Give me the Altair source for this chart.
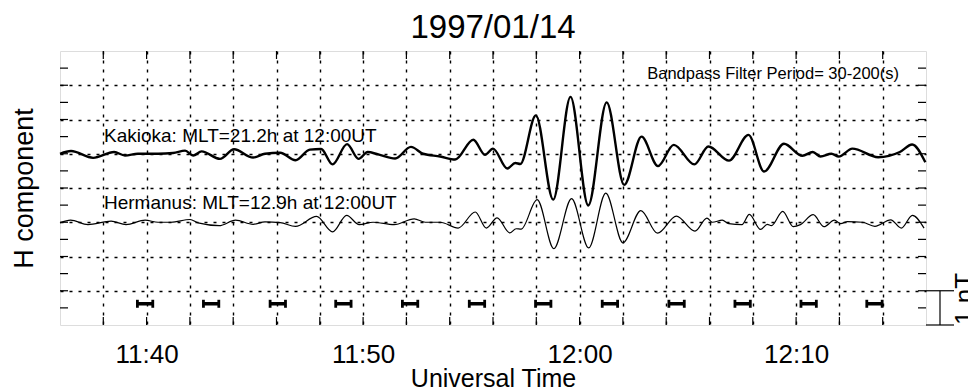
import altair as alt
import pandas as pd

# ---- data (time = minutes after 11:00 UT, value = nT deviation) ----
T_KAK = [36.00, 36.51, 37.53, 38.50, 39.00, 39.60, 40.53, 41.22, 41.78, 42.15, 42.54, 43.39,
         44.04, 44.92, 45.47, 46.17, 46.88, 47.54, 48.06, 48.59, 49.26, 49.79, 50.21, 50.70,
         51.48, 52.21, 52.77, 53.56, 54.25, 55.09, 55.63, 56.00, 56.66, 57.03, 57.26, 57.98,
         58.78, 59.58, 60.40, 61.25, 62.06, 62.86, 63.62, 64.35, 65.30, 65.95, 66.90, 67.80,
         68.52, 69.44, 70.29, 70.77, 71.13, 71.63, 71.97, 72.60, 73.79, 74.79, 75.36, 75.97]
V_KAK = [0.00, 0.08, -0.12, 0.05, -0.05, 0.00, 0.00, 0.02, 0.09, -0.05, 0.07, -0.15,
         0.13, -0.11, 0.00, 0.03, -0.19, 0.12, 0.14, -0.31, 0.28, -0.15, 0.05, -0.02,
         -0.14, 0.20, 0.00, -0.08, -0.17, 0.41, -0.03, 0.15, -0.43, -0.27, -0.30, 1.12,
         -1.34, 1.66, -1.51, 1.50, -0.91, 0.50, -0.36, 0.26, -0.31, 0.21, -0.20, 0.55,
         -0.52, 0.29, -0.06, 0.05, -0.08, 0.00, -0.08, 0.15, -0.10, 0.05, 0.27, -0.25]

T_HER = [36.00, 36.49, 37.29, 38.36, 39.05, 39.93, 40.53, 41.13, 42.01, 42.38, 43.35, 44.11,
         44.92, 45.47, 46.17, 46.88, 47.85, 48.59, 49.24, 49.82, 50.46, 51.43, 52.36, 52.87,
         53.56, 54.39, 55.18, 55.69, 56.19, 56.77, 57.07, 57.30, 58.04, 58.81, 59.63, 60.42,
         61.21, 62.00, 62.83, 63.60, 64.47, 65.33, 65.88, 66.13, 66.59, 66.89, 67.50, 67.84,
         68.36, 68.67, 68.86, 69.38, 69.87, 70.20, 70.79, 71.29, 71.77, 72.06, 72.37, 73.06,
         73.64, 74.37, 74.86, 75.37, 75.91]
V_HER = [-0.02, 0.06, -0.07, 0.03, -0.07, 0.06, 0.00, 0.00, 0.08, -0.02, -0.10, 0.06,
         -0.06, 0.01, -0.01, -0.12, 0.17, -0.28, 0.20, -0.07, 0.00, -0.07, 0.10, 0.00,
         0.00, -0.17, 0.30, -0.17, 0.13, -0.31, -0.19, -0.20, 0.66, -0.77, 0.69, -0.75,
         0.85, -0.60, 0.34, -0.32, 0.18, -0.26, 0.12, 0.00, 0.06, -0.04, -0.07, 0.23,
         -0.21, -0.06, -0.10, 0.32, -0.13, -0.07, 0.22, -0.13, 0.06, -0.04, 0.02, 0.00,
         -0.12, 0.07, -0.17, 0.20, -0.17]

KAK_BASE = 5.0
HER_BASE = 3.0

BAR_CENTERS = [39.93, 42.98, 46.06, 49.09, 52.17, 55.26, 58.32, 61.40, 64.48, 67.53, 70.58, 73.62]
BAR_HALF = 0.355
BAR_LEVEL = 0.62

X_GRID = [38, 40, 42, 44, 46, 48, 50, 52, 54, 56, 58, 60, 62, 64, 66, 68, 70, 72, 74]
Y_GRID = [1, 2, 3, 4, 5, 6, 7]
Y_TICKS = [0.5, 1, 1.5, 2, 2.5, 3, 3.5, 4, 4.5, 5, 5.5, 6, 6.5, 7, 7.5]

TITLE = "1997/01/14"
KAK_LABEL = "Kakioka: MLT=21.2h at 12:00UT"
HER_LABEL = "Hermanus: MLT=12.9h at 12:00UT"
FILTER_LABEL = "Bandpass Filter Period= 30-200(s)"
SCALE_LABEL = "1 nT"

FONT = "Liberation Sans"
W, H = 866, 274

kak = pd.DataFrame({"t": T_KAK, "v": [KAK_BASE + v for v in V_KAK]})
her = pd.DataFrame({"t": T_HER, "v": [HER_BASE + v for v in V_HER]})
bars = pd.DataFrame({"s": [c - BAR_HALF for c in BAR_CENTERS],
                     "e": [c + BAR_HALF for c in BAR_CENTERS]})
xt = pd.DataFrame({"t": X_GRID})
yt = pd.DataFrame({"v": Y_TICKS})
one = pd.DataFrame({"k": [0]})

xscale = alt.Scale(domain=[36, 76], nice=False, zero=False)
yscale = alt.Scale(domain=[0, 8], nice=False, zero=False)

label_expr = ("datum.value % 10 == 0 ? (11 + floor(datum.value / 60)) + ':' + "
              "(datum.value % 60 == 0 ? '00' : '' + (datum.value % 60)) : ''")

x_axis = alt.Axis(values=X_GRID, labelExpr=label_expr, title="Universal Time",
                  grid=True, gridDash=[3, 6], gridColor="#000000", gridOpacity=1, gridWidth=1.4,
                  ticks=False, domain=False,
                  labelFontSize=26, labelPadding=16, labelFont=FONT, labelColor="black",
                  titleFontSize=25, titleFont=FONT, titleFontWeight="normal", titleColor="black",
                  titleBaseline="alphabetic", titleY=61, labelOverlap=False)
y_axis = alt.Axis(values=Y_GRID, labels=False, ticks=False, domain=False, grid=True,
                  gridDash=[3, 6], gridColor="#000000", gridOpacity=1, gridWidth=1.4,
                  title="H component", titleFontSize=27, titleFont=FONT,
                  titleFontWeight="normal", titleColor="black", titleBaseline="alphabetic",
                  titleX=-28, titleY=137)

kak_line = alt.Chart(kak).mark_line(interpolate="monotone", color="black", strokeWidth=2.4).encode(
    x=alt.X("t:Q", scale=xscale, axis=x_axis),
    y=alt.Y("v:Q", scale=yscale, axis=y_axis),
)
her_line = alt.Chart(her).mark_line(interpolate="monotone", color="black", strokeWidth=1.2).encode(
    x=alt.X("t:Q", scale=xscale),
    y=alt.Y("v:Q", scale=yscale),
)

bar_rule = alt.Chart(bars).mark_rule(color="black", strokeWidth=3.5).encode(
    x=alt.X("s:Q", scale=xscale), x2="e:Q",
    y=alt.YDatum(BAR_LEVEL, scale=yscale),
)
cap_l = alt.Chart(bars).mark_tick(orient="vertical", size=8, thickness=2.8, color="black", opacity=1).encode(
    x=alt.X("s:Q", scale=xscale),
    y=alt.YDatum(BAR_LEVEL, scale=yscale),
)
cap_r = alt.Chart(bars).mark_tick(orient="vertical", size=8, thickness=2.8, color="black", opacity=1).encode(
    x=alt.X("e:Q", scale=xscale),
    y=alt.YDatum(BAR_LEVEL, scale=yscale),
)

# inward ticks on the frame
yl = alt.Chart(yt).mark_rule(color="black", strokeWidth=1.2).encode(
    y=alt.Y("v:Q", scale=yscale), x=alt.value(0), x2=alt.value(8))
yr = alt.Chart(yt).mark_rule(color="black", strokeWidth=1.2).encode(
    y=alt.Y("v:Q", scale=yscale), x=alt.value(W - 8), x2=alt.value(W))
xb = alt.Chart(xt).mark_rule(color="black", strokeWidth=1.2).encode(
    x=alt.X("t:Q", scale=xscale), y=alt.value(H - 8), y2=alt.value(H))
xtp = alt.Chart(xt).mark_rule(color="black", strokeWidth=1.2).encode(
    x=alt.X("t:Q", scale=xscale), y=alt.value(0), y2=alt.value(8))

# annotations (single-row data so each text is drawn once)
def text_layer(txt, x, y, size, align="left", angle=0):
    return alt.Chart(one).mark_text(align=align, baseline="alphabetic", fontSize=size, font=FONT,
                                    color="black", angle=angle).encode(
        x=alt.value(x), y=alt.value(y), text=alt.value(txt))

title_txt = text_layer(TITLE, W / 2, -13, 33, align="center")
kak_txt = text_layer(KAK_LABEL, 44, 90.7, 19)
her_txt = text_layer(HER_LABEL, 44, 158, 19)
bp_txt = text_layer(FILTER_LABEL, 839, 28.3, 16.5, align="right")
sb_txt = text_layer(SCALE_LABEL, W + 47, H, 26, angle=270)

# 1 nT scale bar outside the frame
sb_top = alt.Chart(one).mark_rule(color="black", strokeWidth=1.2).encode(
    x=alt.value(W), x2=alt.value(W + 28), y=alt.value(H - 34.25))
sb_bot = alt.Chart(one).mark_rule(color="black", strokeWidth=1.2).encode(
    x=alt.value(W), x2=alt.value(W + 28), y=alt.value(H))
sb_v = alt.Chart(one).mark_rule(color="black", strokeWidth=1.2).encode(
    x=alt.value(W + 14), y=alt.value(H - 34.25), y2=alt.value(H))

chart = alt.layer(
    kak_line, her_line, bar_rule, cap_l, cap_r, yl, yr, xb, xtp,
    title_txt, kak_txt, her_txt, bp_txt, sb_top, sb_bot, sb_v, sb_txt,
).properties(
    width=W, height=H,
    autosize=alt.AutoSizeParams(type="none"),
    padding={"left": 60, "top": 51, "right": 42, "bottom": 67},
).configure_view(
    stroke="black", strokeWidth=1.5
).configure(background="white")

chart.save("out.html", embed_options={"renderer": "svg", "actions": False})
